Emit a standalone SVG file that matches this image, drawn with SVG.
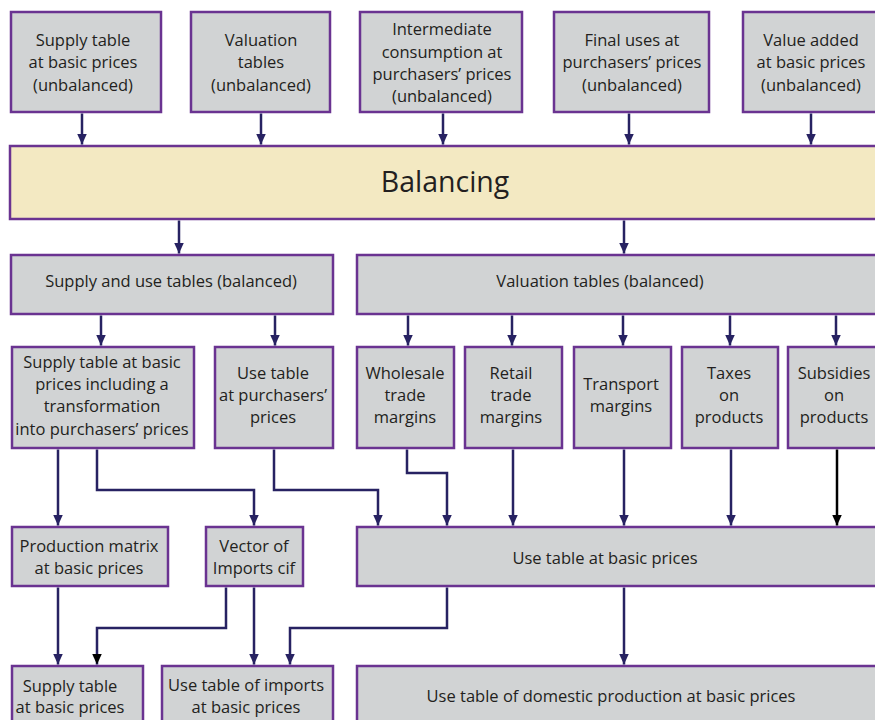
<svg xmlns="http://www.w3.org/2000/svg" width="875" height="720" viewBox="0 0 875 720">
<defs>
<style>
.box{fill:#d1d3d4;stroke:#6a3391;stroke-width:2.5}
.bal{fill:#f3e9c2;stroke:#6a3391;stroke-width:2.5}
text{font-family:"Open Sans","Noto Sans",sans-serif;font-size:16.5px;fill:#231f20;text-anchor:middle}
.big{font-size:28.5px}
.c{fill:none;stroke:#272262;stroke-width:2.5}
.k{stroke:#000}
</style>
<marker id="a" markerUnits="userSpaceOnUse" markerWidth="11" markerHeight="10" refX="11" refY="5" orient="auto"><path d="M0,0 L11,5 L0,10 z" fill="#272262"/></marker>
<marker id="b" markerUnits="userSpaceOnUse" markerWidth="11" markerHeight="10" refX="11" refY="5" orient="auto"><path d="M0,0 L11,5 L0,10 z" fill="#000"/></marker>
</defs>
<rect width="875" height="720" fill="#fff"/>
<g id="n1"><rect class="box" x="11" y="12" width="150" height="100"/><text x="83" y="46">Supply table</text><text x="83" y="68">at basic prices</text><text x="83" y="91">(unbalanced)</text></g>
<g id="n2"><rect class="box" x="191" y="12" width="139" height="100"/><text x="261" y="46">Valuation</text><text x="261" y="68">tables</text><text x="261" y="91">(unbalanced)</text></g>
<g id="n3"><rect class="box" x="360" y="12" width="162" height="100"/><text x="442" y="35">Intermediate</text><text x="442" y="58">consumption at</text><text x="442" y="80">purchasers’ prices</text><text x="442" y="102">(unbalanced)</text></g>
<g id="n4"><rect class="box" x="554" y="12" width="155" height="100"/><text x="632" y="46">Final uses at</text><text x="632" y="68">purchasers’ prices</text><text x="632" y="91">(unbalanced)</text></g>
<g id="n5"><rect class="box" x="743" y="12" width="140" height="100"/><text x="811" y="46">Value added</text><text x="811" y="68">at basic prices</text><text x="811" y="91">(unbalanced)</text></g>
<g id="balancing"><rect class="bal" x="10" y="146" width="880" height="73"/><text class="big" x="445" y="192">Balancing</text></g>
<g id="sut"><rect class="box" x="11" y="255" width="322" height="59"/><text x="171" y="287">Supply and use tables (balanced)</text></g>
<g id="valb"><rect class="box" x="357" y="255" width="530" height="59"/><text x="600" y="287">Valuation tables (balanced)</text></g>
<g id="st"><rect class="box" x="12" y="347" width="182" height="101"/><text x="102" y="368">Supply table at basic</text><text x="102" y="390">prices including a</text><text x="102" y="412">transformation</text><text x="102" y="435">into purchasers’ prices</text></g>
<g id="ut"><rect class="box" x="215" y="347" width="118" height="101"/><text x="273" y="379">Use table</text><text x="273" y="401">at purchasers’</text><text x="273" y="423">prices</text></g>
<g id="wh"><rect class="box" x="357" y="347" width="97" height="101"/><text x="405" y="379">Wholesale</text><text x="405" y="401">trade</text><text x="405" y="423">margins</text></g>
<g id="rt"><rect class="box" x="465" y="347" width="97" height="101"/><text x="511" y="379">Retail</text><text x="511" y="401">trade</text><text x="511" y="423">margins</text></g>
<g id="tr"><rect class="box" x="574" y="347" width="97" height="101"/><text x="621" y="390">Transport</text><text x="621" y="412">margins</text></g>
<g id="tx"><rect class="box" x="682" y="347" width="96" height="101"/><text x="729" y="379">Taxes</text><text x="729" y="401">on</text><text x="729" y="423">products</text></g>
<g id="sb"><rect class="box" x="788" y="347" width="100" height="101"/><text x="834" y="379">Subsidies</text><text x="834" y="401">on</text><text x="834" y="423">products</text></g>
<g id="pm"><rect class="box" x="12" y="527" width="156" height="59"/><text x="89" y="552">Production matrix</text><text x="89" y="574">at basic prices</text></g>
<g id="vi"><rect class="box" x="206" y="527" width="97" height="59"/><text x="254" y="552">Vector of</text><text x="254" y="574">Imports cif</text></g>
<g id="ub"><rect class="box" x="357" y="527" width="530" height="59"/><text x="605" y="564">Use table at basic prices</text></g>
<g id="sbp"><rect class="box" x="12" y="666" width="131" height="70"/><text x="70" y="692">Supply table</text><text x="70" y="713">at basic prices</text></g>
<g id="uti"><rect class="box" x="162" y="666" width="171" height="70"/><text x="246" y="691">Use table of imports</text><text x="246" y="713">at basic prices</text></g>
<g id="utd"><rect class="box" x="357" y="666" width="530" height="70"/><text x="611" y="702">Use table of domestic production at basic prices</text></g>
<g id="connectors">
<path class="c" marker-end="url(#a)" d="M82,113.5V144.5"/>
<path class="c" marker-end="url(#a)" d="M261,113.5V144.5"/>
<path class="c" marker-end="url(#a)" d="M443,113.5V144.5"/>
<path class="c" marker-end="url(#a)" d="M629,113.5V144.5"/>
<path class="c" marker-end="url(#a)" d="M811,113.5V144.5"/>
<path class="c" marker-end="url(#a)" d="M179,220.5V253.5"/>
<path class="c" marker-end="url(#a)" d="M624,220.5V253.5"/>
<path class="c" marker-end="url(#a)" d="M101,315.5V345.5"/>
<path class="c" marker-end="url(#a)" d="M275,315.5V345.5"/>
<path class="c" marker-end="url(#a)" d="M408,315.5V345.5"/>
<path class="c" marker-end="url(#a)" d="M512,315.5V345.5"/>
<path class="c" marker-end="url(#a)" d="M623,315.5V345.5"/>
<path class="c" marker-end="url(#a)" d="M730,315.5V345.5"/>
<path class="c" marker-end="url(#a)" d="M836,315.5V345.5"/>
<path class="c" marker-end="url(#a)" d="M58,449.5V525.5"/>
<path class="c" marker-end="url(#a)" d="M97,449.5V490H254V525.5"/>
<path class="c" marker-end="url(#a)" d="M274,449.5V490H378V525.5"/>
<path class="c" marker-end="url(#a)" d="M407,449.5V473H447V525.5"/>
<path class="c" marker-end="url(#a)" d="M513,449.5V525.5"/>
<path class="c" marker-end="url(#a)" d="M624,449.5V525.5"/>
<path class="c" marker-end="url(#a)" d="M731,449.5V525.5"/>
<path class="c k" marker-end="url(#b)" d="M837,449.5V525.5"/>
<path class="c" marker-end="url(#a)" d="M58,587.5V664.5"/>
<path class="c" marker-end="url(#b)" d="M226,587.5V628H97V664.5"/>
<path class="c" marker-end="url(#a)" d="M254,587.5V664.5"/>
<path class="c" marker-end="url(#a)" d="M447,587.5V628H290V664.5"/>
<path class="c" marker-end="url(#a)" d="M624,587.5V664.5"/>
</g>
</svg>
